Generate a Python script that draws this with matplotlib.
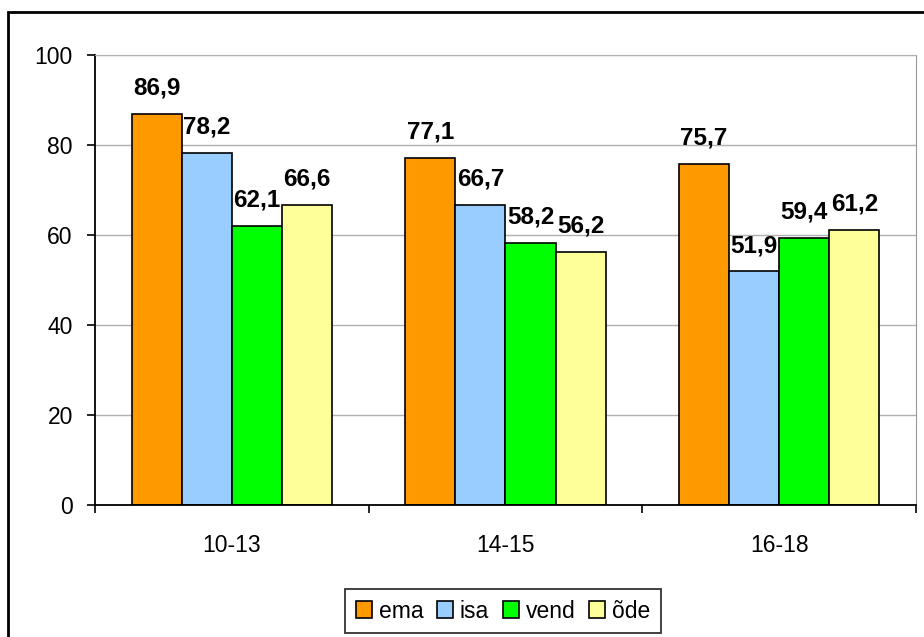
import numpy as np
import matplotlib.pyplot as plt
from matplotlib.patches import Rectangle

# data
groups = ['10-13', '14-15', '16-18']
series = ['ema', 'isa', 'vend', 'õde']
ema = [86.9, 77.1, 75.7]
isa = [78.2, 66.7, 51.9]
vend = [62.1, 58.2, 59.4]
ode = [66.6, 56.2, 61.2]
colors = ['#FF9900', '#99CCFF', '#00FF00', '#FFFF99']

plt.rcParams['font.family'] = ['Liberation Sans', 'DejaVu Sans']

fig = plt.figure(figsize=(9.24, 6.37), dpi=100)
ax = fig.add_axes([95/924, 1-505/637, (916-95)/924, (505-55)/637])

# outer frame like the excel chart area
fig.patches.append(Rectangle((8/924, -0.2), 1.2, 1-12/637+0.2, transform=fig.transFigure,
                             fill=False, edgecolor='black', linewidth=2, zorder=0))

x = np.arange(len(groups))
w = 0.183
vals = [ema, isa, vend, ode]
for i, (name, v) in enumerate(zip(series, vals)):
    pos = x + (i - 1.5) * w
    ax.bar(pos, v, w, color=colors[i], edgecolor='black', linewidth=1.2,
           label=name, zorder=3)
    for xx, yy in zip(pos, v):
        ax.annotate(f'{yy:.1f}'.replace('.', ','), (xx, yy), xytext=(0, 14),
                    textcoords='offset points', ha='center', va='baseline',
                    fontsize=17.5, fontweight='bold')

ax.set_xlim(-0.5, 2.5)
ax.set_ylim(0, 100)
ax.set_yticks(range(0, 101, 20))
ax.tick_params(axis='y', length=6, width=1.2, pad=10, labelsize=16.5, direction='out')
ax.set_xticks([-0.5, 0.5, 1.5, 2.5])
ax.set_xticklabels([])
ax.tick_params(axis='x', which='major', length=6, width=1.2, direction='out')
ax.set_xticks(x, minor=True)
ax.set_xticklabels(groups, minor=True)
ax.tick_params(axis='x', which='minor', length=0, pad=21, labelsize=16.5)

ax.grid(axis='y', color='#b0b0b0', linewidth=1, zorder=0)
ax.spines['left'].set_linewidth(1.3)
ax.spines['bottom'].set_linewidth(1.3)
ax.spines['right'].set_color('#999999')
ax.spines['top'].set_color('#b0b0b0')
ax.spines['bottom'].set_zorder(4)

leg = ax.legend(loc='center', bbox_to_anchor=(503/924, 1-611/637),
                bbox_transform=fig.transFigure, ncol=4, fontsize=16.5,
                frameon=True, fancybox=False, edgecolor='black',
                handlelength=0.7, handleheight=0.7, handletextpad=0.3,
                columnspacing=0.6, borderpad=0.45)
leg.get_frame().set_linewidth(1.3)

fig.savefig('out.png', dpi=100)
